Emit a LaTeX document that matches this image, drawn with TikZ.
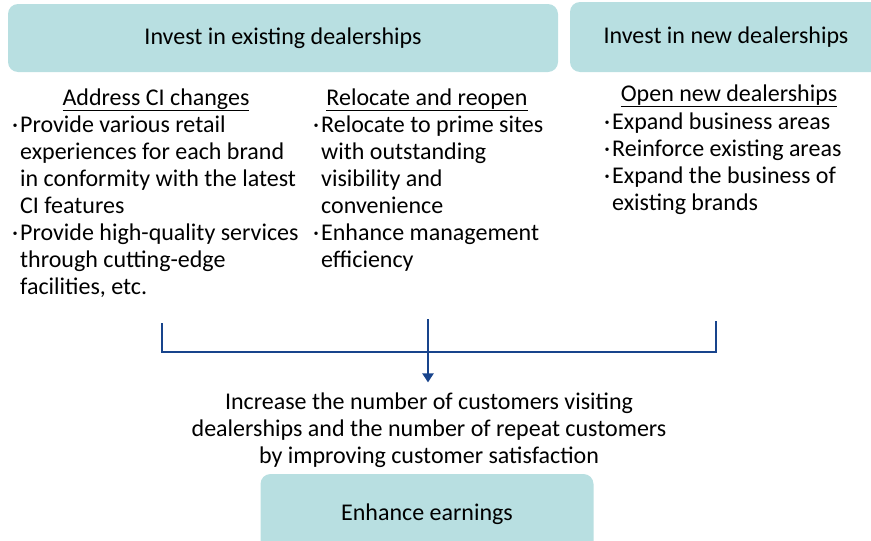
\documentclass[tikz,border=0pt]{standalone}
\usepackage{fontspec}
\setmainfont{Carlito}
\usetikzlibrary{arrows.meta}

\definecolor{boxfill}{RGB}{184,223,225}
\definecolor{linkblue}{RGB}{24,68,140}

\tikzset{
  txt/.style={font=\fontsize{24}{27}\selectfont, inner sep=0pt},
  topbox/.style={txt, fill=boxfill, rounded corners=10pt, minimum height=68pt},
  heading/.style={txt, anchor=base},
  list/.style={txt, align=left, anchor=north west},
  bracket/.style={linkblue, line width=2.8pt}
}

% bullet and hanging indent for the lists
\newcommand{\bul}{\makebox[8pt][l]{·}}
\newcommand{\ind}{\hspace*{8pt}}

\begin{document}
\begin{tikzpicture}[x=1pt,y=-1pt]
\clip (0,0) rectangle (871,541);

% Investment boxes
\node[topbox, minimum width=550pt] (existing) at (283,38) {Invest in existing dealerships};
\node[topbox, minimum width=312pt, minimum height=70pt] (new) at (726,37) {Invest in new dealerships};

% Column headings
\node[heading] (ci) at (156,105) {\underline{Address CI changes}};
\node[heading] (reloc) at (427,105) {\underline{Relocate and reopen}};
\node[heading] (open) at (729,101) {\underline{Open new dealerships}};

% Lists under each heading
\node[list] (ciList) at (12,116) {%
  \bul Provide various retail\\
  \ind experiences for each brand\\
  \ind in conformity with the latest\\
  \ind CI features\\
  \bul Provide high-quality services\\
  \ind through cutting-edge\\
  \ind facilities, etc.};
\node[list] (relocList) at (313,116) {%
  \bul Relocate to prime sites\\
  \ind with outstanding\\
  \ind visibility and\\
  \ind convenience\\
  \bul Enhance management\\
  \ind efficiency};
\node[list] (openList) at (604,113) {%
  \bul Expand business areas\\
  \bul Reinforce existing areas\\
  \bul Expand the business of\\
  \ind existing brands};

% Outcome
\node[txt, align=center, inner ysep=10pt] (result) at (429,430) {%
  Increase the number of customers visiting\\
  dealerships and the number of repeat customers\\
  by improving customer satisfaction};
\node[topbox, minimum width=333pt, minimum height=80pt] (earnings) at (427,514) {Enhance earnings};

% Bracket joining the three columns
\coordinate (ciEnd) at (162,323);
\coordinate (relocEnd) at (428,319);
\coordinate (openEnd) at (716,321);
\coordinate (join) at (428,352);
\draw[bracket] (ciEnd) |- (join) -| (openEnd);
\draw[bracket, -{Triangle[length=9pt,width=11pt]}] (relocEnd) -- (relocEnd |- result.north);

\end{tikzpicture}
\end{document}
